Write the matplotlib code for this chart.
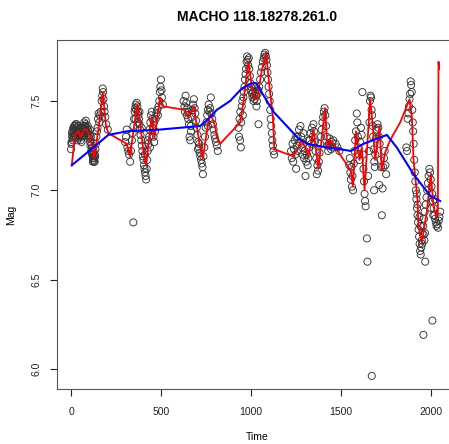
import numpy as np
import matplotlib
matplotlib.use('Agg')
import matplotlib.pyplot as plt

season1 = [(0, 7.23), (2, 7.26), (3, 7.27), (5, 7.32), (6, 7.30), (8, 7.33), (9, 7.28), (10, 7.29),
           (12, 7.35), (14, 7.34), (15, 7.32), (17, 7.30), (18, 7.36), (20, 7.31), (22, 7.36), (23, 7.34),
           (25, 7.37), (27, 7.33), (28, 7.30), (30, 7.33), (31, 7.37), (33, 7.35), (35, 7.28), (36, 7.31),
           (38, 7.36), (40, 7.32), (42, 7.29), (43, 7.34), (46, 7.30), (48, 7.33), (50, 7.31), (52, 7.35),
           (53, 7.28), (56, 7.33), (58, 7.27), (60, 7.30), (62, 7.32), (63, 7.35), (66, 7.32), (68, 7.34),
           (70, 7.36), (72, 7.31), (73, 7.38), (76, 7.34), (78, 7.36), (80, 7.37), (82, 7.39), (83, 7.33),
           (86, 7.35), (88, 7.32), (90, 7.31), (92, 7.34), (93, 7.36), (96, 7.33), (98, 7.30), (100, 7.29),
           (103, 7.31), (104, 7.34), (106, 7.27), (108, 7.25), (110, 7.30), (112, 7.22), (113, 7.26),
           (116, 7.24), (117, 7.20), (118, 7.22), (120, 7.20), (121, 7.16), (122, 7.18), (124, 7.17),
           (125, 7.22), (126, 7.19), (128, 7.16), (130, 7.18), (131, 7.16), (132, 7.20), (134, 7.19),
           (135, 7.23), (138, 7.26), (141, 7.30), (144, 7.33), (147, 7.35), (150, 7.40), (153, 7.43),
           (156, 7.38), (160, 7.42), (165, 7.44), (170, 7.50), (173, 7.53), (176, 7.57), (178, 7.55),
           (180, 7.51), (183, 7.47), (186, 7.44), (190, 7.41), (195, 7.37), (204, 7.34)]
season2 = [(300, 7.27), (305, 7.30), (309, 7.34), (313, 7.24), (318, 7.22), (322, 7.20), (328, 7.16),
           (333, 7.22), (338, 7.28), (342, 7.32), (346, 7.36), (346, 6.82), (350, 7.40), (353, 7.44),
           (356, 7.46), (358, 7.40), (359, 7.48), (362, 7.45), (365, 7.49), (368, 7.47), (371, 7.44),
           (372, 7.38), (374, 7.42), (377, 7.40), (380, 7.37), (380, 7.44), (383, 7.34), (386, 7.31),
           (390, 7.28), (392, 7.35), (393, 7.25), (396, 7.22), (399, 7.19), (402, 7.17), (405, 7.14),
           (408, 7.12), (410, 7.20), (411, 7.10), (414, 7.08), (417, 7.06), (420, 7.12), (423, 7.17),
           (425, 7.28), (426, 7.22), (430, 7.26), (433, 7.30), (436, 7.34), (438, 7.24), (440, 7.38),
           (444, 7.42), (448, 7.44), (452, 7.40), (455, 7.35), (458, 7.30), (460, 7.38), (462, 7.27),
           (466, 7.33), (470, 7.40), (474, 7.43), (478, 7.45), (482, 7.42), (486, 7.47), (490, 7.50),
           (493, 7.55), (496, 7.58), (499, 7.62), (502, 7.56), (505, 7.52), (510, 7.48)]
season3 = [(625, 7.50), (630, 7.47), (633, 7.44), (636, 7.53), (640, 7.49), (643, 7.42), (646, 7.46),
           (648, 7.44), (650, 7.40), (655, 7.37), (658, 7.30), (662, 7.28), (665, 7.36), (666, 7.33),
           (670, 7.41), (674, 7.45), (678, 7.48), (682, 7.51), (686, 7.46), (690, 7.43), (694, 7.39),
           (698, 7.35), (702, 7.31), (705, 7.23), (706, 7.27), (710, 7.24), (712, 7.26), (714, 7.21),
           (718, 7.19), (722, 7.17), (726, 7.15), (730, 7.13), (732, 7.09), (735, 7.19), (740, 7.24),
           (744, 7.30), (748, 7.35), (752, 7.38), (756, 7.42), (760, 7.45), (760, 7.36), (764, 7.48),
           (768, 7.44), (772, 7.46), (776, 7.52), (780, 7.43), (784, 7.40), (788, 7.37), (792, 7.34),
           (796, 7.31), (800, 7.29), (805, 7.27), (810, 7.25), (815, 7.22)]
season4 = [(930, 7.35), (933, 7.30), (936, 7.40), (939, 7.28), (940, 7.44), (943, 7.24), (945, 7.38),
           (948, 7.47), (951, 7.50), (954, 7.42), (957, 7.52), (960, 7.55), (963, 7.58), (966, 7.62),
           (969, 7.65), (972, 7.68), (975, 7.72), (978, 7.75), (981, 7.73), (984, 7.70), (987, 7.74),
           (990, 7.68), (993, 7.64), (996, 7.60), (999, 7.58), (1002, 7.56), (1005, 7.54), (1008, 7.52),
           (1011, 7.55), (1014, 7.50), (1016, 7.58), (1017, 7.53), (1020, 7.51), (1024, 7.55),
           (1028, 7.53), (1030, 7.47), (1032, 7.50), (1036, 7.54), (1040, 7.56), (1041, 7.37),
           (1045, 7.58), (1050, 7.62), (1055, 7.66), (1060, 7.69), (1065, 7.72), (1070, 7.74),
           (1074, 7.76), (1078, 7.77), (1082, 7.75), (1085, 7.73), (1088, 7.70), (1091, 7.66),
           (1094, 7.62), (1097, 7.58), (1100, 7.54), (1103, 7.50), (1106, 7.45), (1109, 7.40),
           (1112, 7.36), (1115, 7.32), (1118, 7.28), (1121, 7.25), (1124, 7.22), (1128, 7.20)]
season5 = [(1222, 7.22), (1226, 7.18), (1230, 7.26), (1234, 7.16), (1238, 7.23), (1242, 7.28),
           (1246, 7.20), (1250, 7.12), (1250, 7.30), (1254, 7.25), (1258, 7.30), (1262, 7.22),
           (1266, 7.34), (1270, 7.27), (1274, 7.36), (1278, 7.30), (1282, 7.24), (1286, 7.20),
           (1290, 7.26), (1290, 7.32), (1294, 7.18), (1298, 7.22), (1302, 7.08), (1306, 7.16),
           (1310, 7.20), (1314, 7.14), (1318, 7.18), (1320, 7.28), (1322, 7.24), (1326, 7.28),
           (1330, 7.32), (1334, 7.26), (1338, 7.35), (1342, 7.30), (1346, 7.37), (1350, 7.33),
           (1354, 7.27), (1358, 7.22), (1362, 7.18), (1365, 7.09), (1368, 7.14), (1372, 7.11),
           (1376, 7.16), (1380, 7.21), (1384, 7.26), (1388, 7.30), (1392, 7.34), (1396, 7.38),
           (1400, 7.41), (1404, 7.44), (1408, 7.46), (1412, 7.42), (1416, 7.36), (1420, 7.30),
           (1424, 7.25), (1428, 7.22), (1432, 7.26), (1436, 7.29), (1440, 7.25), (1444, 7.23),
           (1448, 7.27), (1452, 7.24), (1456, 7.28), (1470, 7.26), (1480, 7.24), (1490, 7.22)]
season6 = [(1545, 7.14), (1548, 7.18), (1551, 7.10), (1554, 7.06), (1557, 7.13), (1560, 7.02),
           (1563, 7.08), (1566, 7.00), (1570, 7.15), (1574, 7.22), (1578, 7.28), (1582, 7.33),
           (1587, 7.43), (1590, 7.38), (1593, 7.30), (1596, 7.24), (1599, 7.20), (1602, 7.17),
           (1606, 7.27), (1610, 7.35), (1614, 7.31), (1618, 7.55), (1621, 7.20), (1624, 7.12),
           (1627, 7.05), (1630, 6.98), (1633, 6.94), (1636, 6.91), (1643, 6.73), (1646, 6.60),
           (1650, 7.08), (1654, 7.22), (1657, 7.38), (1660, 7.50), (1663, 7.53), (1666, 7.52),
           (1669, 7.45), (1670, 5.96), (1672, 7.42), (1675, 7.36), (1678, 7.30), (1681, 7.23),
           (1683, 7.00), (1684, 7.16), (1687, 7.13), (1690, 7.20), (1694, 7.29), (1698, 7.34),
           (1702, 7.37), (1706, 7.35), (1710, 7.30), (1712, 7.03), (1714, 7.26), (1718, 7.17),
           (1722, 7.13), (1726, 6.86), (1730, 7.01), (1734, 7.13), (1738, 7.18), (1742, 7.22),
           (1746, 7.14), (1750, 7.09)]
season7 = [(1862, 7.24), (1866, 7.22), (1870, 7.40), (1874, 7.43), (1877, 7.47), (1880, 7.51),
           (1883, 7.54), (1886, 7.61), (1889, 7.59), (1892, 7.55), (1895, 7.45), (1898, 7.38),
           (1900, 7.33), (1903, 7.26), (1906, 7.17), (1909, 7.10), (1912, 7.05), (1915, 7.00),
           (1918, 6.95), (1920, 6.98), (1921, 6.90), (1924, 6.86), (1925, 6.92), (1927, 6.82),
           (1930, 6.78), (1933, 6.74), (1935, 6.85), (1936, 6.70), (1939, 6.66), (1940, 6.80),
           (1942, 6.64), (1945, 6.68), (1948, 6.72), (1950, 6.70), (1952, 6.76), (1956, 6.80),
           (1957, 6.19), (1958, 6.75), (1960, 6.84), (1962, 6.72), (1964, 6.88), (1966, 6.76),
           (1967, 6.60), (1970, 6.92), (1974, 6.96), (1978, 7.00), (1982, 7.04), (1986, 7.08),
           (1990, 7.12), (1994, 7.10), (1998, 7.06), (2000, 6.90), (2002, 7.02), (2006, 6.98),
           (2007, 6.27), (2010, 6.94), (2012, 6.86), (2014, 6.90), (2018, 6.86), (2020, 6.95),
           (2022, 6.84), (2026, 6.82), (2030, 6.80), (2034, 6.81), (2038, 6.79), (2042, 6.83),
           (2046, 6.85), (2050, 6.88)]

# red fitted curve
red_time = [4, 22, 41, 54, 72, 87, 106, 118, 129, 143, 157, 176, 194, 207,
            309, 328, 350, 368, 383, 402, 417, 432, 448, 463, 479, 494, 513,
            633, 648, 683, 698, 717, 732, 750, 768, 782, 800, 809, 828,
            939, 957, 972, 985, 1004, 1018, 1035, 1059, 1083, 1102, 1121, 1129,
            1235, 1263, 1276, 1300, 1318, 1346, 1365, 1374, 1393, 1411, 1424, 1439, 1457, 1494,
            1554, 1565, 1583, 1602, 1615, 1630, 1661, 1676, 1689, 1702, 1713, 1726, 1744, 1772,
            1828, 1880, 1893, 1902, 1924, 1929, 1948, 1976, 1998, 2013, 2028, 2037, 2041, 2044]
red_mag = [7.14, 7.31, 7.33, 7.30, 7.34, 7.34, 7.30, 7.24, 7.18, 7.28, 7.38, 7.55, 7.36, 7.32,
           7.26, 7.19, 7.36, 7.48, 7.38, 7.22, 7.14, 7.28, 7.41, 7.29, 7.41, 7.52, 7.47,
           7.45, 7.41, 7.47, 7.36, 7.24, 7.18, 7.30, 7.42, 7.41, 7.36, 7.30, 7.26,
           7.38, 7.49, 7.62, 7.72, 7.58, 7.51, 7.52, 7.67, 7.77, 7.58, 7.41, 7.23,
           7.19, 7.24, 7.28, 7.24, 7.19, 7.34, 7.19, 7.12, 7.30, 7.46, 7.23, 7.28, 7.26, 7.20,
           7.11, 7.02, 7.33, 7.17, 7.24, 7.00, 7.51, 7.36, 7.17, 7.26, 7.36, 7.11, 7.21, 7.28,
           7.38, 7.51, 7.41, 7.17, 6.95, 6.80, 6.71, 6.88, 7.09, 6.91, 6.85, 6.87, 7.72, 7.68]

# blue smooth trend
blue_time = [4, 124, 207, 309, 494, 717, 763, 809, 883, 948, 1004, 1028, 1124, 1263, 1310,
             1421, 1494, 1554, 1624, 1754, 1809, 1902, 1994, 2050]
blue_mag = [7.14, 7.24, 7.31, 7.33, 7.34, 7.36, 7.40, 7.45, 7.50, 7.57, 7.60, 7.60, 7.44, 7.29, 7.26,
            7.24, 7.23, 7.22, 7.26, 7.31, 7.24, 7.09, 6.97, 6.94]

plt.rcParams['font.family'] = ['Liberation Sans', 'DejaVu Sans']

obs = np.array(season1 + season2 + season3 + season4 + season5 + season6 + season7)

fig = plt.figure(figsize=(4.49, 4.44), dpi=100)
ax = fig.add_axes([0.127, 0.124, 0.891, 0.786])

ax.scatter(obs[:, 0], obs[:, 1], s=26, facecolors='none', edgecolors='#333333', linewidths=0.65, zorder=2)
ax.plot(red_time, red_mag, color='red', lw=1.3, zorder=3)
ax.plot(blue_time, blue_mag, color='blue', lw=1.5, zorder=4)

ax.set_xlim(-78, 2144)
ax.set_ylim(5.887, 7.842)
ax.set_xticks([0, 500, 1000, 1500, 2000])
ax.set_yticks([6.0, 6.5, 7.0, 7.5])
ax.set_yticklabels(['6.0', '6.5', '7.0', '7.5'], rotation=90, va='center')
ax.tick_params(direction='out', length=5, width=0.8, labelsize=7.5, colors='#222222')
ax.tick_params(axis='x', pad=8)
ax.tick_params(axis='y', pad=6)

for sp in ax.spines.values():
    sp.set_color('#555555')
    sp.set_linewidth(0.8)

ax.set_title('MACHO 118.18278.261.0', fontsize=10, fontweight='bold', pad=14)
ax.set_xlabel('Time', fontsize=7.5, labelpad=11)
ax.set_ylabel('Mag', fontsize=7.5, labelpad=11)

plt.savefig('out.png', dpi=100)
